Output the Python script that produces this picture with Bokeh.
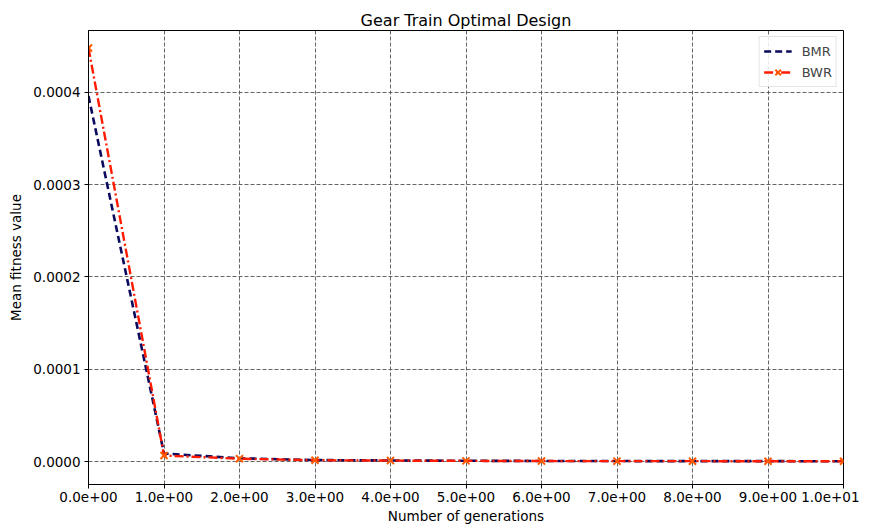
from bokeh.plotting import figure
from bokeh.models import Range1d, FixedTicker, PrintfTickFormatter, Legend, LegendItem
from bokeh.embed import file_html
from bokeh.resources import INLINE

generations = [0, 1, 2, 3, 4, 5, 6, 7, 8, 9, 10]
bmr = [0.000396, 0.0000087, 0.0000035, 0.0000016, 0.0000011, 0.0000008, 0.0000006, 0.0000005, 0.0000004, 0.0000004, 0.0000003]
bwr = [0.000448, 0.0000065, 0.0000030, 0.0000014, 0.0000010, 0.0000007, 0.0000005, 0.0000004, 0.0000004, 0.0000003, 0.0000003]
x_ticks = [0, 1, 2, 3, 4, 5, 6, 7, 8, 9, 10]
x_labels = ["0.0e+00", "1.0e+00", "2.0e+00", "3.0e+00", "4.0e+00", "5.0e+00",
            "6.0e+00", "7.0e+00", "8.0e+00", "9.0e+00", "1.0e+01"]
y_ticks = [0.0, 0.0001, 0.0002, 0.0003, 0.0004]

FONT = "DejaVu Sans"

p = figure(width=859, height=528, output_backend="svg", toolbar_location=None,
           x_range=Range1d(0, 10), y_range=Range1d(-0.0000249, 0.000467),
           title="Gear Train Optimal Design")
p.min_border_left = 88
p.min_border_right = 16
p.min_border_top = 30
p.min_border_bottom = 44

p.title.align = "center"
p.title.text_font = FONT
p.title.text_font_size = "16px"
p.title.text_font_style = "normal"
p.title.text_color = "black"
p.title.standoff = 2

p.outline_line_color = "black"
p.outline_line_width = 1
p.outline_line_alpha = 1

for ax in (p.xaxis[0], p.yaxis[0]):
    ax.axis_line_color = "black"
    ax.major_tick_line_color = "black"
    ax.major_tick_out = 4
    ax.major_tick_in = 0
    ax.minor_tick_line_color = None
    ax.major_label_text_font = FONT
    ax.major_label_text_font_size = "13.5px"
    ax.major_label_text_color = "black"
    ax.axis_label_text_font = FONT
    ax.axis_label_text_font_size = "13.5px"
    ax.axis_label_text_font_style = "normal"
    ax.axis_label_text_color = "black"

p.xaxis.major_label_standoff = 3
p.xaxis.axis_label_standoff = 3
p.yaxis.major_label_standoff = 4
p.yaxis.axis_label_standoff = 6

p.xaxis.ticker = FixedTicker(ticks=x_ticks)
p.xaxis.major_label_overrides = {t: l for t, l in zip(x_ticks, x_labels)}
p.yaxis.ticker = FixedTicker(ticks=y_ticks)
p.yaxis.formatter = PrintfTickFormatter(format="%.4f")
p.xaxis.axis_label = "Number of generations"
p.yaxis.axis_label = "Mean fitness value"

for g in (p.xgrid[0], p.ygrid[0]):
    g.grid_line_color = "#555555"
    g.grid_line_dash = "4 2"
    g.grid_line_width = 1
    g.grid_line_alpha = 0.9

l1 = p.line(generations, bmr, line_color="#0a0a5e", line_width=2.6, line_dash="7 4")
l2 = p.line(generations, bwr, line_color="#ff1a00", line_width=2.4, line_dash="9 3 2 3")
s2 = p.scatter(generations, bwr, marker="x", size=10, line_color="#ff5a00", line_width=2)

legend = Legend(items=[LegendItem(label="BMR", renderers=[l1]),
                       LegendItem(label="BWR", renderers=[l2, s2])],
                location="top_right")
legend.label_text_font = FONT
legend.label_text_font_size = "13px"
legend.border_line_color = "#cccccc"
legend.border_line_width = 1
legend.background_fill_alpha = 0.85
legend.margin = 6
legend.padding = 4
legend.spacing = 1
legend.glyph_width = 28
legend.label_standoff = 10
p.add_layout(legend)

open("out.html", "w").write(file_html(p, INLINE))
